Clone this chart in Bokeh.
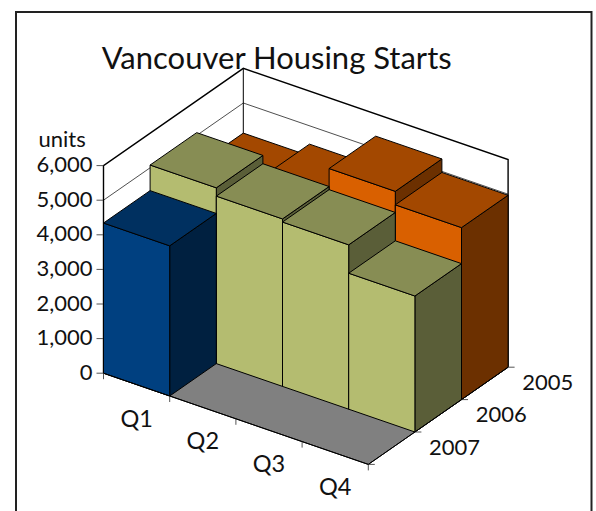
from bokeh.plotting import figure
from bokeh.models import Range1d
from bokeh.core.properties import value
from bokeh.embed import file_html
from bokeh.resources import INLINE

TITLE = "Vancouver Housing Starts"
UNITS = "units"
quarters = ["Q1", "Q2", "Q3", "Q4"]
years = ["2007", "2006", "2005"]  # front to back
ticks = [0, 1000, 2000, 3000, 4000, 5000, 6000]
tick_labels = ["0", "1,000", "2,000", "3,000", "4,000", "5,000", "6,000"]

starts_2007 = [4340, None, None, None]
starts_2006 = [5080, 4840, 4750, 3930]
starts_2005 = [4130, 4470, 5360, 4970]
rows = [starts_2007, starts_2006, starts_2005]

front = ["#004080", "#B4BC70", "#D96000"]
top = ["#003060", "#878D54", "#A34800"]
side = ["#002040", "#5A5E38", "#6C3000"]

FONT = "Lato"
VMAX = 6000

# oblique projection of (quarter, depth, value) to picture coordinates
X0, Y0 = 103.0, 372.7
QX, QY = 66.2, 22.8
DX, DY = 46.6, -32.4
VY = 0.0346


def pr(q, d, v=0):
    return X0 + QX * q + DX * d, Y0 + QY * q + DY * d - VY * v


def poly(*pts):
    return [pt[0] for pt in pts], [pt[1] for pt in pts]


p = figure(width=596, height=511, output_backend="svg", toolbar_location=None,
           x_range=Range1d(0, 596), y_range=Range1d(511, 0), min_border=0,
           outline_line_color=None, background_fill_color="white")
p.axis.visible = False
p.grid.visible = False


def seg(a, b, color="black", width=1.0):
    xs, ys = poly(a, b)
    p.line(xs, ys, line_color=color, line_width=width)


def fill(pts, color, lw=1.0):
    xs, ys = poly(*pts)
    p.patch(xs + xs[:1], ys + ys[:1], fill_color=color, line_color="#000000",
            line_width=lw, line_join="miter")


# outer frame (runs off the bottom of the page)
fx0, fx1, fy0 = 15.5, 591, 11.5
p.line([fx0, fx0, fx1, fx1], [511, fy0, fy0, 511], line_color="#222222", line_width=2, line_join="miter")

nq, nd = len(quarters), len(years)

# gridlines on the back walls
for t in ticks[1:-1]:
    a, b, c = pr(0, 0, t), pr(0, nd, t), pr(nq, nd, t)
    xs, ys = poly(a, b, c)
    p.line(xs, ys, line_color="#222222", line_width=0.8)

# wall outline
xs, ys = poly(pr(0, 0, 0), pr(0, 0, VMAX), pr(0, nd, VMAX), pr(nq, nd, VMAX), pr(nq, nd, 0))
p.line(xs, ys, line_color="black", line_width=1.4, line_join="miter")
seg(pr(0, nd, 0), pr(0, nd, VMAX), width=1.0)

# floor
fill([pr(0, 0), pr(nq, 0), pr(nq, nd), pr(0, nd)], "#808080")

# bars, back to front
for d in reversed(range(nd)):
    for q in range(nq):
        v = rows[d][q]
        if v is None:
            continue
        fill([pr(q + 1, d), pr(q + 1, d + 1), pr(q + 1, d + 1, v), pr(q + 1, d, v)], side[d])
        fill([pr(q, d), pr(q + 1, d), pr(q + 1, d, v), pr(q, d, v)], front[d])
        fill([pr(q, d, v), pr(q + 1, d, v), pr(q + 1, d + 1, v), pr(q, d + 1, v)], top[d])

# axis ticks
TC = "#555555"
for t in ticks:
    x, y = pr(0, 0, t)
    p.line([x - 7, x], [y, y], line_color=TC, line_width=1)
for q in range(nq + 1):
    x, y = pr(q, 0)
    p.line([x, x], [y, y + 6], line_color=TC, line_width=1)
for d in range(nd + 1):
    x, y = pr(nq, d)
    p.line([x, x + 6.5], [y, y], line_color=TC, line_width=1)
# axis edges
seg(pr(0, 0), pr(nq, 0))
seg(pr(nq, 0), pr(nq, nd))
seg(pr(0, 0), pr(0, 0, VMAX))

TS = "22px"
TEXT = "#111111"


def label(x, y, s, align="center", size=TS):
    p.text([x], [y], text=[s], text_font=value(FONT), text_font_size=size,
           text_color=TEXT, text_align=align, text_baseline="middle")


for t, s in zip(ticks, tick_labels):
    x, y = pr(0, 0, t)
    label(x - 11, y - 1, s, "right")
for q, s in enumerate(quarters):
    x, y = pr(q + 0.5, 0)
    label(x, y + 33, s, "center", "23.5px")
for d, s in enumerate(years):
    x, y = pr(nq, d + 0.5)
    label(x + 63, y - 1, s)
label(38, 138, UNITS, "left")
label(276.5, 56, TITLE, "center", "31px")

open("out.html", "w").write(file_html(p, INLINE))
